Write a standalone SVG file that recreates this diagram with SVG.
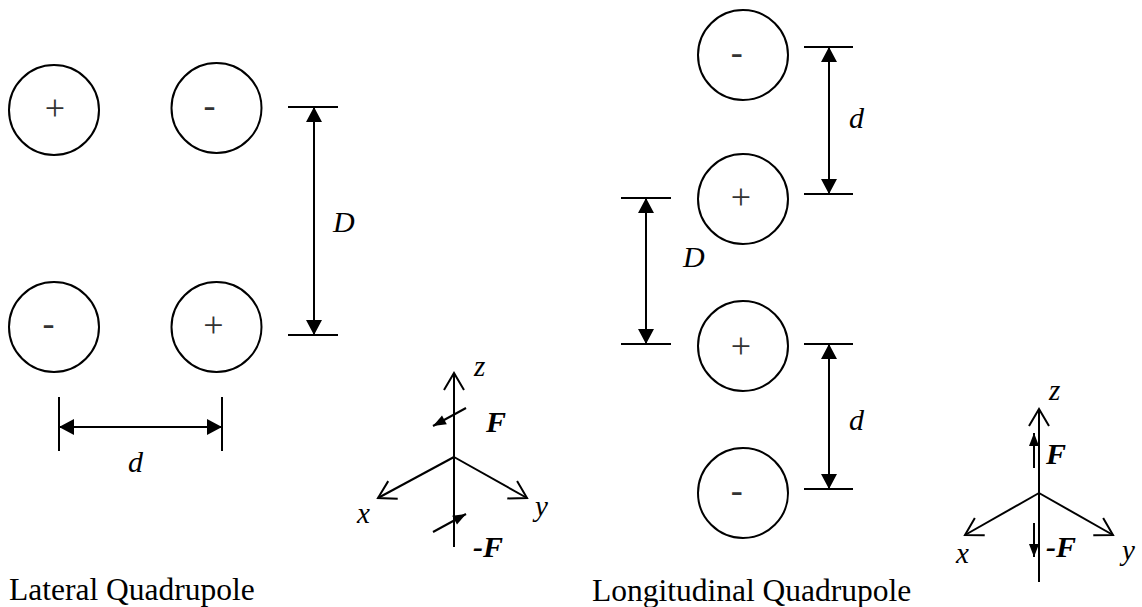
<svg xmlns="http://www.w3.org/2000/svg" width="1142" height="607" viewBox="0 0 1142 607">
<style>
.c{fill:none;stroke:#000;stroke-width:2}
.l{fill:none;stroke:#000;stroke-width:2}
.i{font-family:"Liberation Serif",serif;font-size:30px;font-style:italic;fill:#000}
.b{font-family:"Liberation Serif",serif;font-size:30px;font-style:italic;font-weight:bold;fill:#000}
.cap{font-family:"Liberation Serif",serif;font-size:31.5px;fill:#000}
</style>
<defs>
<marker id="dim" markerUnits="userSpaceOnUse" viewBox="-16 -9 17 18" markerWidth="17" markerHeight="18" refX="0" refY="0" orient="auto-start-reverse">
<path d="M0,0 L-15,-8 L-15,8 Z" fill="#000"/>
</marker>
<marker id="f" markerUnits="userSpaceOnUse" viewBox="-14 -6 15 12" markerWidth="15" markerHeight="12" refX="0" refY="0" orient="auto">
<path d="M0,0 L-13,-5 L-13,5 Z" fill="#000"/>
</marker>
<marker id="ax" markerUnits="userSpaceOnUse" viewBox="-20 -12 22 24" markerWidth="22" markerHeight="24" refX="0" refY="0" orient="auto">
<path d="M-17,-10 L0,0 L-17,10" fill="none" stroke="#000" stroke-width="2"/>
</marker>
</defs>

<g id="signs" font-family="Liberation Serif, serif" font-size="36" fill="#333" text-anchor="middle">
<g id="lat-c1"><circle class="c" cx="54" cy="110" r="45"/><text x="55" y="119.5">+</text></g>
<g id="lat-c2"><circle class="c" cx="216.5" cy="108" r="45"/><text x="209.5" y="116.5">-</text></g>
<g id="lat-c3"><circle class="c" cx="54" cy="327" r="45"/><text x="48.5" y="334.5">-</text></g>
<g id="lat-c4"><circle class="c" cx="216.5" cy="327" r="45"/><text x="213.5" y="337">+</text></g>

<g id="lon-c1"><circle class="c" cx="743" cy="55" r="45"/><text x="736.7" y="64">-</text></g>
<g id="lon-c2"><circle class="c" cx="743" cy="199" r="45"/><text x="741" y="209">+</text></g>
<g id="lon-c3"><circle class="c" cx="743" cy="346" r="45"/><text x="741" y="357.5">+</text></g>
<g id="lon-c4"><circle class="c" cx="743" cy="493" r="45"/><text x="736.7" y="501.5">-</text></g>
</g>

<g id="connectors">
<!-- lateral D -->
<line class="l" x1="288" y1="107" x2="338" y2="107"/>
<line class="l" x1="288" y1="335" x2="338" y2="335"/>
<line class="l" x1="314" y1="107" x2="314" y2="335" marker-start="url(#dim)" marker-end="url(#dim)"/>
<!-- lateral d -->
<line class="l" x1="59" y1="397" x2="59" y2="451"/>
<line class="l" x1="222" y1="397" x2="222" y2="451"/>
<line class="l" x1="59" y1="427" x2="222" y2="427" marker-start="url(#dim)" marker-end="url(#dim)"/>
<!-- longitudinal top d -->
<line class="l" x1="804" y1="47" x2="853" y2="47"/>
<line class="l" x1="804" y1="194" x2="853" y2="194"/>
<line class="l" x1="829" y1="47" x2="829" y2="194" marker-start="url(#dim)" marker-end="url(#dim)"/>
<!-- longitudinal D -->
<line class="l" x1="621" y1="198" x2="671" y2="198"/>
<line class="l" x1="621" y1="344" x2="671" y2="344"/>
<line class="l" x1="646" y1="198" x2="646" y2="344" marker-start="url(#dim)" marker-end="url(#dim)"/>
<!-- longitudinal bottom d -->
<line class="l" x1="804" y1="344" x2="853" y2="344"/>
<line class="l" x1="804" y1="489" x2="853" y2="489"/>
<line class="l" x1="829" y1="344" x2="829" y2="489" marker-start="url(#dim)" marker-end="url(#dim)"/>

<!-- lateral axes -->
<line class="l" x1="454" y1="547" x2="454" y2="373" marker-end="url(#ax)"/>
<line class="l" x1="454" y1="457" x2="378" y2="498" marker-end="url(#ax)"/>
<line class="l" x1="454" y1="457" x2="527" y2="498" marker-end="url(#ax)"/>
<line class="l" x1="466" y1="408" x2="433" y2="426" marker-end="url(#f)"/>
<line class="l" x1="433" y1="532" x2="466" y2="514" marker-end="url(#f)"/>

<!-- longitudinal axes -->
<line class="l" x1="1039" y1="582" x2="1039" y2="409" marker-end="url(#ax)"/>
<line class="l" x1="1039" y1="493" x2="965" y2="535" marker-end="url(#ax)"/>
<line class="l" x1="1039" y1="493" x2="1113" y2="535" marker-end="url(#ax)"/>
<line class="l" x1="1034" y1="468" x2="1034" y2="433" marker-end="url(#f)"/>
<line class="l" x1="1034" y1="523" x2="1034" y2="557" marker-end="url(#f)"/>
</g>

<g id="labels">
<text class="i" x="333" y="232">D</text>
<text class="i" x="128" y="472">d</text>
<text class="i" x="849" y="128">d</text>
<text class="i" x="683" y="267">D</text>
<text class="i" x="849" y="430">d</text>

<text class="i" x="474" y="376" style="font-size:29px">z</text>
<text class="i" x="357" y="523" style="font-size:29px">x</text>
<text class="i" x="535" y="516" style="font-size:29px">y</text>
<text class="b" x="486" y="432">F</text>
<text class="b" x="473" y="557">-F</text>

<text class="i" x="1049" y="400" style="font-size:29px">z</text>
<text class="i" x="956" y="563" style="font-size:29px">x</text>
<text class="i" x="1122" y="560" style="font-size:29px">y</text>
<text class="b" x="1046" y="464">F</text>
<text class="b" x="1046" y="557">-F</text>

<text class="cap" x="9" y="600">Lateral Quadrupole</text>
<text class="cap" x="592" y="601">Longitudinal Quadrupole</text>
</g>
</svg>
